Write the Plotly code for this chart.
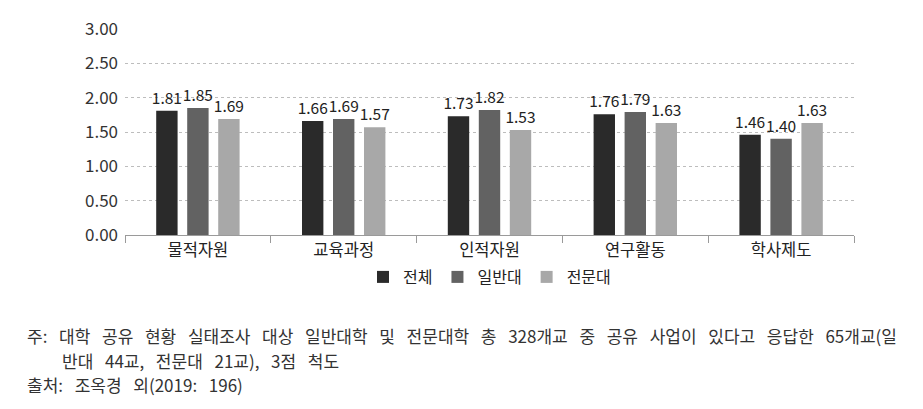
import plotly.graph_objects as go

categories = ["물적자원", "교육과정", "인적자원", "연구활동", "학사제도"]
series_names = ["전체", "일반대", "전문대"]
total = [1.81, 1.66, 1.73, 1.76, 1.46]
general = [1.85, 1.69, 1.82, 1.79, 1.40]
college = [1.69, 1.57, 1.53, 1.63, 1.63]
y_ticks = [0, 0.5, 1.0, 1.5, 2.0, 2.5, 3.0]
y_tick_labels = ["0.00", "0.50", "1.00", "1.50", "2.00", "2.50", "3.00"]
note_lines = [
    "주: 대학 공유 현황 실태조사 대상 일반대학 및 전문대학 총 328개교 중 공유 사업이 있다고 응답한 65개교(일",
    "반대 44교, 전문대 21교), 3점 척도",
    "출처: 조옥경 외(2019: 196)",
]

colors = ["#2a2a2a", "#626262", "#a8a8a8"]
FONT = "Noto Sans CJK KR"

W, H = 923, 409
L, R, T, B = 125, 69, 29, 174
pw, ph = W - L - R, H - T - B

def px_x(x):
    return (x - L) / pw

def px_y(y):
    return (H - B - y) / ph

fig = go.Figure()
for name, vals, col in zip(series_names, [total, general, college], colors):
    fig.add_trace(go.Bar(
        x=categories, y=vals, name=name,
        marker=dict(color=col, line=dict(width=0)),
        text=[f"{v:.2f}" for v in vals],
        textposition="outside",
        constraintext="none",
        cliponaxis=False,
        textfont=dict(family=FONT, size=15.5, color="#222222"),
    ))

annotations = []
note_pos = [(25, 335), (60, 360), (25, 384)]
for line, (xp, yp) in zip(note_lines, note_pos):
    annotations.append(dict(
        text=line.replace(" ", "\u00a0\u2009\u2009\u200a"), xref="paper", yref="paper",
        x=px_x(xp), y=px_y(yp), xanchor="left", yanchor="middle",
        showarrow=False,
        font=dict(family=FONT, size=17, color="#333333"),
    ))

fig.update_layout(
    width=W, height=H,
    margin=dict(l=L, r=R, t=T, b=B, pad=0),
    paper_bgcolor="white", plot_bgcolor="white",
    barmode="group", bargap=0.362, bargroupgap=0.31,
    font=dict(family=FONT, size=15, color="#333333"),
    showlegend=True,
    legend=dict(
        orientation="h", x=0.5, xanchor="center",
        y=px_y(277), yanchor="middle",
        font=dict(family=FONT, size=16, color="#222222"),
        itemwidth=30, itemsizing="constant",
        traceorder="normal",
        bgcolor="rgba(0,0,0,0)",
    ),
    annotations=annotations,
)
fig.update_xaxes(
    showgrid=False, showline=True, linecolor="#9a9a9a", linewidth=1,
    ticks="outside", tickson="boundaries", ticklen=7, tickcolor="#9a9a9a",
    tickfont=dict(family=FONT, size=16.5, color="#222222"),
)
fig.update_yaxes(
    range=[0, 3], tickvals=y_ticks, ticktext=y_tick_labels,
    showgrid=True, gridcolor="#bdbdbd", griddash="dot", gridwidth=1,
    zeroline=False, showline=False, ticks="",
    tickfont=dict(family=FONT, size=17, color="#333333"),
    ticklabelstandoff=6,
)

fig.write_html("out.html")
